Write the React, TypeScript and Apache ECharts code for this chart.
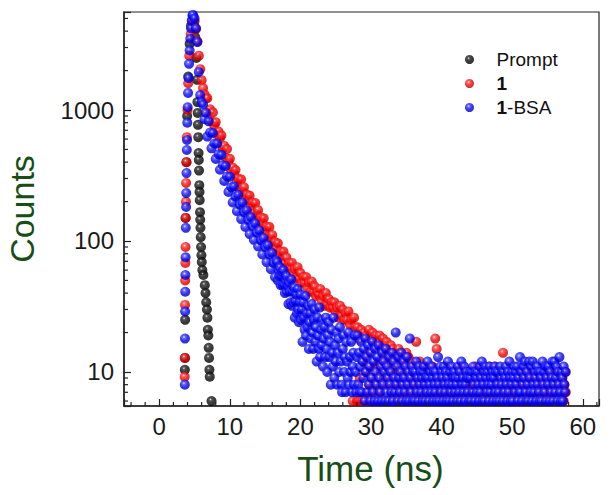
import React, { useEffect, useRef } from 'react';
import * as echarts from 'echarts';

// ---------- axes ----------
const X_MIN = -5;
const X_MAX = 62.3;
const Y_MIN = 5.5;
const Y_MAX = 5600;
const xMinorTicks = [-4, -2, 2, 4, 6, 8, 12, 14, 16, 18, 22, 24, 26, 28, 32, 34, 36, 38, 42, 44, 46, 48, 52, 54, 56, 58, 62];
const yMinorTicks = [6, 7, 8, 9, 20, 30, 40, 50, 60, 70, 80, 90, 200, 300, 400, 500, 600, 700, 800, 900, 2000, 3000, 4000, 5000];
const seriesNames = ['Prompt', '1', '1-BSA'];

// ---------- data (time in ns, counts) ----------
const promptPoints = [
  [3.62, 10.4], [3.64, 12.8], [3.66, 25], [3.72, 150], [3.85, 400], [3.95, 900], [4.1, 1800], [4.3, 3200],
  [4.5, 4400], [4.7, 4900], [4.9, 4600], [5.1, 3600], [5.25, 2500], [5.35, 1700],
  [5.40, 1150], [5.44, 950], [5.48, 770], [5.52, 620], [5.57, 470], [5.6, 415], [5.63, 345], [5.67, 267],
  [5.7, 237], [5.73, 205], [5.77, 166], [5.8, 145], [5.83, 126], [5.87, 107], [5.92, 90], [5.97, 78],
  [6.02, 69], [6.1, 60], [6.25, 55], [6.45, 46], [6.55, 40], [6.65, 34], [6.75, 30], [6.82, 26],
  [6.88, 21], [6.95, 19], [7.0, 15.3], [7.05, 12.8], [7.1, 10.4], [7.15, 9.2], [7.4, 6],
];

const redRise = [
  [3.6, 9.2], [3.62, 12.8], [3.65, 32.5], [3.67, 50], [3.7, 68], [3.72, 90], [3.75, 150], [3.78, 199],
  [3.8, 277], [3.85, 400], [3.9, 620], [4.0, 1000], [4.1, 1600], [4.25, 2600], [4.45, 3800], [4.65, 4700],
];
const blueRise = [
  [3.62, 8], [3.64, 18], [3.66, 29], [3.68, 41], [3.7, 55], [3.73, 75], [3.76, 126], [3.8, 182],
  [3.82, 232], [3.86, 330], [3.9, 495], [3.93, 590], [3.97, 800], [4.02, 1050], [4.08, 1350], [4.15, 1750],
  [4.22, 2250], [4.3, 2850], [4.4, 3500], [4.5, 4200], [4.6, 4800], [4.7, 5300],
];

// fast decay: channels every 0.2 ns from 4.8 ns
const DECAY_START = 4.8;
const DECAY_STEP = 0.2;
const redDecay = [
  4900, 4750, 4150, 3350, 2600, 2050, 1690, 1470, 1320, 1225,
  1232, 977, 1014, 819, 958, 765, 808, 653, 685, 606,
  640, 510, 532, 432, 504, 403, 424, 342, 363, 324,
  348, 281, 300, 248, 295, 238, 257, 211, 226, 204,
  222, 181, 196, 163, 195, 160, 172, 142, 151, 137,
  149, 121, 129, 107, 128, 104, 111, 91, 98, 88,
  96, 78, 83, 69, 83, 68, 75, 63, 68, 62,
  68, 57, 61, 52, 63, 52, 57, 48, 53, 48,
  53, 44, 48, 41, 49, 41, 45, 38, 41, 39,
  43, 35, 38, 32, 40, 33, 36, 31, 34, 31,
  34, 29, 31, 26, 32, 27, 30, 25, 28, 25,
  29, 23, 25, 6, 26, 22, 6,
];
const blueDecay = [
  5300, 5000, 4200, 3300, 1950, 1300, 1150, 1100, 850, 950,
  627, 819, 673, 510, 667, 555, 423, 554, 459, 350,
  454, 378, 287, 374, 311, 237, 309, 257, 197, 261,
  218, 169, 225, 190, 147, 196, 166, 128, 171, 145,
  113, 152, 130, 102, 136, 116, 91, 120, 101, 79,
  105, 90, 69, 93, 79, 61, 81, 68, 53, 71,
];

// slow part of 1-BSA: channels every 0.1 ns from 16.7 ns
const BLUE_SLOW_START = 16.7;
const BLUE_SLOW_STEP = 0.1;
const blueSlow = [
  69, 50, 60, 54, 63, 46, 54, 58, 46, 60,
  47, 40, 50, 54, 41, 45, 33, 48, 41, 34,
  51, 32, 41, 34, 44, 26, 35, 39, 28, 43,
  30, 24, 34, 39, 25, 30, 17, 34, 26, 21,
  38, 19, 28, 22, 32, 15, 24, 28, 18, 33,
  20, 15, 25, 30, 17, 22, 12, 26, 19, 15,
  31, 13, 21, 16, 25, 11, 18, 22, 13, 26,
  15, 10, 19, 24, 13, 17, 8, 21, 14, 11,
  26, 9, 16, 12, 20, 8, 14, 18, 10, 22,
  12, 8, 7, 15, 19, 10, 13, 7, 17, 12,
  9, 20, 8, 13, 10, 17, 7, 11, 14, 8,
  19, 10, 7, 13,
];

// tail: channels every 0.1 ns from 28.1 ns
const TAIL_START = 28.1;
const TAIL_STEP = 0.1;
const redTail = [
  22, 6, 18, 9, 6, 21, 7, 6, 12, 20,
  6, 10, 19, 7, 14, 6, 21, 8, 11, 18,
  7, 20, 9, 6, 16, 11, 19, 8, 6, 17,
  12, 19, 7, 10, 15, 6, 18, 9, 13, 16,
  8, 17, 11, 6, 15, 9, 13, 16, 7, 10,
  15, 8, 12, 14, 6, 10, 13, 9, 15, 7,
  11, 14, 8, 6, 13, 10, 7, 12, 9, 14,
  6, 10, 13, 8, 7, 11, 9, 12, 6, 10,
  8, 11, 6, 17, 9, 7, 10, 8, 12, 6,
  9, 7, 10, 6, 8, 11, 7, 9, 6, 10,
  7, 9, 6, 10, 8, 7, 11, 9, 6, 8,
  18, 7, 15, 9, 6, 10, 8, 7, 9, 6,
  10, 8, 6, 9, 7, 11, 8, 6, 9, 7,
  8, 6, 10, 7, 9, 6, 8, 10, 7, 9,
  6, 9, 7, 10, 8, 6, 11, 7, 9, 8,
  7, 10, 8, 6, 9, 7, 10, 8, 6, 9,
  9, 7, 6, 10, 8, 9, 7, 11, 6, 8,
  8, 6, 9, 7, 10, 8, 6, 9, 7, 10,
  7, 9, 8, 6, 10, 7, 11, 9, 6, 8,
  9, 6, 10, 8, 7, 11, 9, 6, 8, 10,
  8, 7, 9, 6, 10, 8, 14, 7, 9, 6,
  10, 8, 6, 9, 7, 10, 8, 6, 9, 7,
  7, 9, 8, 6, 10, 7, 9, 8, 6, 10,
  9, 6, 10, 8, 7, 9, 6, 10, 8, 7,
  8, 10, 7, 9, 6, 8, 10, 7, 9, 6,
  6, 8, 10, 7, 9, 8, 6, 10, 7, 9,
  10, 7, 9, 6, 8, 10, 7, 9, 8, 6,
  8, 9, 6, 10, 7, 8, 10, 6, 9, 7,
  7, 10, 8, 6, 9, 10, 8, 7, 10, 6,
  9, 7, 6, 8, 10, 7,
];
const blueTail = [
  19, 8, 14, 7, 11, 17, 7, 12, 9, 15,
  6, 18, 10, 13, 7, 16, 8, 11, 6, 14,
  9, 17, 7, 12, 6, 15, 10, 8, 13, 6,
  16, 9, 7, 11, 6, 14, 8, 12, 10, 6,
  15, 7, 11, 9, 6, 13, 8, 10, 7, 14,
  6, 12, 9, 7, 20, 8, 11, 6, 13, 9,
  7, 10, 14, 6, 8, 12, 9, 7, 11, 6,
  13, 8, 10, 6, 18, 9, 7, 11, 6, 10,
  8, 6, 10, 12, 7, 9, 6, 11, 8, 10,
  7, 9, 6, 10, 11, 8, 6, 9, 7, 12,
  9, 6, 8, 10, 7, 11, 9, 6, 10, 8,
  7, 10, 6, 9, 13, 8, 6, 11, 7, 10,
  9, 6, 11, 8, 7, 10, 6, 9, 12, 8,
  6, 10, 7, 11, 8, 6, 9, 10, 7, 9,
  8, 6, 11, 9, 7, 10, 6, 12, 8, 9,
  7, 11, 6, 8, 10, 9, 7, 9, 6, 10,
  9, 6, 10, 7, 11, 8, 6, 10, 9, 7,
  10, 8, 6, 11, 7, 9, 12, 6, 8, 10,
  6, 11, 9, 7, 10, 8, 6, 11, 7, 9,
  8, 10, 6, 9, 11, 7, 10, 6, 8, 10,
  7, 6, 11, 9, 8, 10, 6, 10, 7, 9,
  11, 8, 6, 10, 7, 12, 9, 6, 8, 10,
  6, 9, 11, 7, 10, 8, 11, 6, 9, 7,
  13, 7, 10, 6, 8, 11, 9, 12, 7, 6,
  10, 8, 6, 12, 9, 7, 11, 6, 12, 8,
  7, 10, 9, 6, 11, 8, 10, 7, 6, 10,
  9, 6, 12, 8, 10, 7, 11, 6, 9, 11,
  8, 11, 6, 10, 7, 9, 12, 6, 8, 12,
  7, 9, 11, 6, 10, 8, 13, 7, 6, 10,
  9, 6, 11, 8, 7, 10,
];

// ---------- helpers ----------
const channels = (start: number, step: number, counts: number[]) =>
  counts.map((c, i) => [Math.round((start + i * step) * 100) / 100, c]);

const FONT = '"Liberation Sans", Arial, Helvetica, sans-serif';
const TITLE_GREEN = '#174d17';
const AXIS_COLOR = '#222222';

const sphere = (hi: string, mid: string, base: string, edge: string) => ({
  type: 'radial',
  x: 0.4,
  y: 0.35,
  r: 0.7,
  global: false,
  colorStops: [
    { offset: 0, color: hi },
    { offset: 0.2, color: mid },
    { offset: 0.55, color: base },
    { offset: 1, color: edge },
  ],
});

const isPow10 = (v: number) => {
  const l = Math.log10(v);
  return Math.abs(l - Math.round(l)) < 1e-6;
};

export default function App() {
  const ref = useRef<HTMLDivElement>(null);

  useEffect(() => {
    document.body.style.margin = '0';
    if (!ref.current) return;
    const chart = echarts.init(ref.current, undefined, { renderer: 'svg' });

    const scatterBase = {
      type: 'scatter',
      symbol: 'circle',
      symbolSize: 10,
      emphasis: { disabled: true },
      silent: true,
      xAxisIndex: 0,
      yAxisIndex: 0,
    };

    const tickSeries = (name: string, data: number[][], vertical: boolean) => ({
      type: 'custom',
      name,
      silent: true,
      clip: false,
      z: 5,
      data,
      renderItem: (_p: any, api: any) => {
        const pt = api.coord([api.value(0), api.value(1)]);
        const shape = vertical
          ? { x1: pt[0], y1: pt[1], x2: pt[0], y2: pt[1] - 4 }
          : { x1: pt[0], y1: pt[1], x2: pt[0] + 4, y2: pt[1] };
        return { type: 'line', shape, style: { stroke: AXIS_COLOR, lineWidth: 1.2 } };
      },
    });

    const option: any = {
      animation: false,
      backgroundColor: '#ffffff',
      grid: {
        left: 124,
        right: 11,
        top: 12,
        bottom: 89,
        show: true,
        borderColor: AXIS_COLOR,
        borderWidth: 1.2,
        containLabel: false,
        outerBoundsMode: 'none',
      },
      legend: {
        data: seriesNames,
        orient: 'vertical',
        left: 465,
        top: 50,
        padding: 0,
        itemWidth: 44,
        itemHeight: 9,
        itemGap: 5,
        selectedMode: false,
        textStyle: {
          fontFamily: FONT,
          fontSize: 19,
          color: '#111111',
          rich: { b: { fontFamily: FONT, fontSize: 19, fontWeight: 'bold', color: '#111111' } },
        },
        formatter: (name: string) => (name === 'Prompt' ? 'Prompt' : name === '1' ? '{b|1}' : '{b|1}-BSA'),
      },
      xAxis: {
        type: 'value',
        min: X_MIN,
        max: X_MAX,
        name: 'Time (ns)',
        nameLocation: 'middle',
        nameGap: 45,
        nameTextStyle: { fontFamily: FONT, fontSize: 35, color: TITLE_GREEN, padding: [0, 0, 0, 18] },
        axisLine: { show: true, onZero: false, lineStyle: { color: AXIS_COLOR, width: 1.5 } },
        axisTick: { show: true, inside: true, length: 7, lineStyle: { color: AXIS_COLOR, width: 1.2 } },
        splitLine: { show: false },
        axisLabel: {
          fontFamily: FONT,
          fontSize: 24,
          color: '#1a1a1a',
          margin: 8,
          formatter: (v: number) => (Math.abs(v % 10) < 1e-9 ? String(v) : ''),
        },
      },
      yAxis: {
        type: 'log',
        logBase: 10,
        min: Y_MIN,
        max: Y_MAX,
        name: 'Counts',
        nameLocation: 'middle',
        nameGap: 85,
        nameTextStyle: { fontFamily: FONT, fontSize: 34, color: TITLE_GREEN },
        axisLine: { show: true, onZero: false, lineStyle: { color: AXIS_COLOR, width: 1.5 } },
        axisTick: { show: true, inside: true, length: 7, lineStyle: { color: AXIS_COLOR, width: 1.2 } },
        splitLine: { show: false },
        minorTick: { show: false },
        axisLabel: {
          fontFamily: FONT,
          fontSize: 24,
          color: '#1a1a1a',
          margin: 10,
          formatter: (v: number) => (isPow10(v) ? String(Math.round(v)) : ''),
        },
      },
      series: [
        {
          ...scatterBase,
          name: 'Prompt',
          itemStyle: { color: sphere('#d8d8d8', '#2a2a2a', '#080808', '#000000') },
          data: promptPoints,
        },
        {
          ...scatterBase,
          name: '1',
          itemStyle: { color: sphere('#ffe4e4', '#ff4a4a', '#f40000', '#b80000') },
          data: [...redRise, ...channels(DECAY_START, DECAY_STEP, redDecay), ...channels(TAIL_START, TAIL_STEP, redTail)],
        },
        {
          ...scatterBase,
          name: '1-BSA',
          itemStyle: { color: sphere('#e4e4ff', '#4a4aff', '#0000f4', '#0000a8') },
          data: [
            ...blueRise,
            ...channels(DECAY_START, DECAY_STEP, blueDecay),
            ...channels(BLUE_SLOW_START, BLUE_SLOW_STEP, blueSlow),
            ...channels(TAIL_START, TAIL_STEP, blueTail),
          ],
        },
        tickSeries('xMinor', xMinorTicks.map((v) => [v, Y_MIN]), true),
        tickSeries('yMinor', yMinorTicks.map((v) => [X_MIN, v]), false),
      ],
    };

    chart.setOption(option);
    return () => chart.dispose();
  }, []);

  return <div ref={ref} style={{ width: 610, height: 495 }} />;
}
